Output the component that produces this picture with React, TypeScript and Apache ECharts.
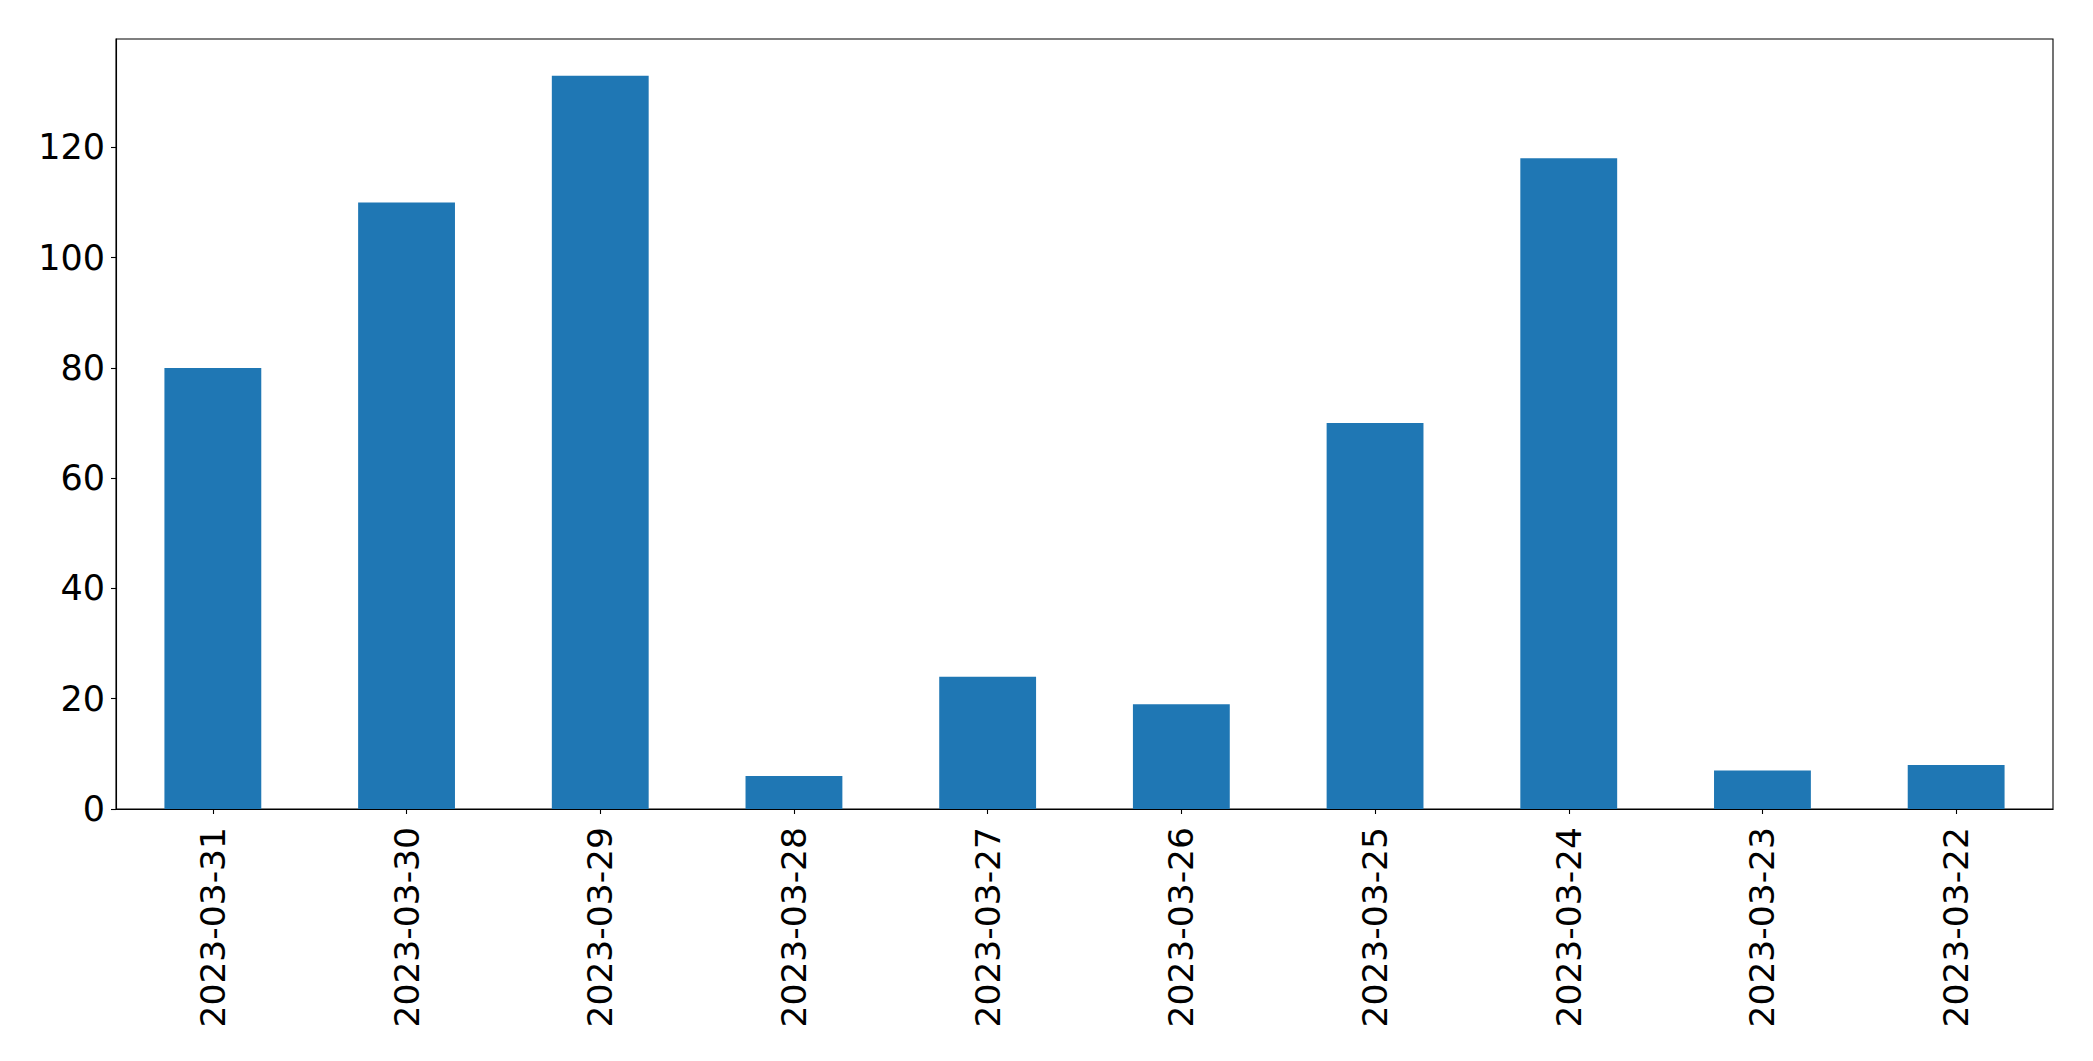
import React, { useEffect, useRef } from "react";
import * as echarts from "echarts";

const categories = [
  "2023-03-31",
  "2023-03-30",
  "2023-03-29",
  "2023-03-28",
  "2023-03-27",
  "2023-03-26",
  "2023-03-25",
  "2023-03-24",
  "2023-03-23",
  "2023-03-22",
];
const values = [80, 110, 133, 6, 24, 19, 70, 118, 7, 8];
const yTicks = [0, 20, 40, 60, 80, 100, 120];
const yMax = 139.65;

export default function App() {
  const ref = useRef<HTMLDivElement>(null);
  useEffect(() => {
    document.body.style.margin = "0";
    const chart = echarts.init(ref.current!, null, { renderer: "svg" });
    const font = "DejaVu Sans";
    chart.setOption({
      animation: false,
      backgroundColor: "#ffffff",
      grid: {
        left: 116,
        right: 40,
        top: 39,
        bottom: 252,
        show: true,
        borderColor: "#000000",
        borderWidth: 1.1,
        backgroundColor: "transparent",
      },
      xAxis: {
        type: "category",
        data: categories,
        boundaryGap: true,
        axisLine: { show: true, lineStyle: { color: "#000000", width: 1.1 } },
        axisTick: {
          show: true,
          alignWithLabel: true,
          length: 5,
          lineStyle: { color: "#000000", width: 1.1 },
        },
        axisLabel: {
          rotate: 90,
          interval: 0,
          margin: 18,
          color: "#000000",
          fontFamily: font,
          fontSize: 34.5,
        },
        splitLine: { show: false },
      },
      yAxis: {
        type: "value",
        min: 0,
        max: yMax,
        interval: 20,
        axisLine: { show: true, lineStyle: { color: "#000000", width: 1.1 } },
        axisTick: {
          show: true,
          length: 5,
          customValues: yTicks,
          lineStyle: { color: "#000000", width: 1.1 },
        },
        axisLabel: {
          margin: 11,
          color: "#000000",
          fontFamily: font,
          fontSize: 35,
          customValues: yTicks,
        },
        splitLine: { show: false },
      },
      series: [
        {
          type: "bar",
          data: values,
          barWidth: "50%",
          itemStyle: { color: "#1f77b4" },
        },
      ],
    });
    return () => chart.dispose();
  }, []);
  return (
    <div
      ref={ref}
      style={{ position: "fixed", left: 0, top: 0, width: 2093, height: 1061 }}
    />
  );
}
